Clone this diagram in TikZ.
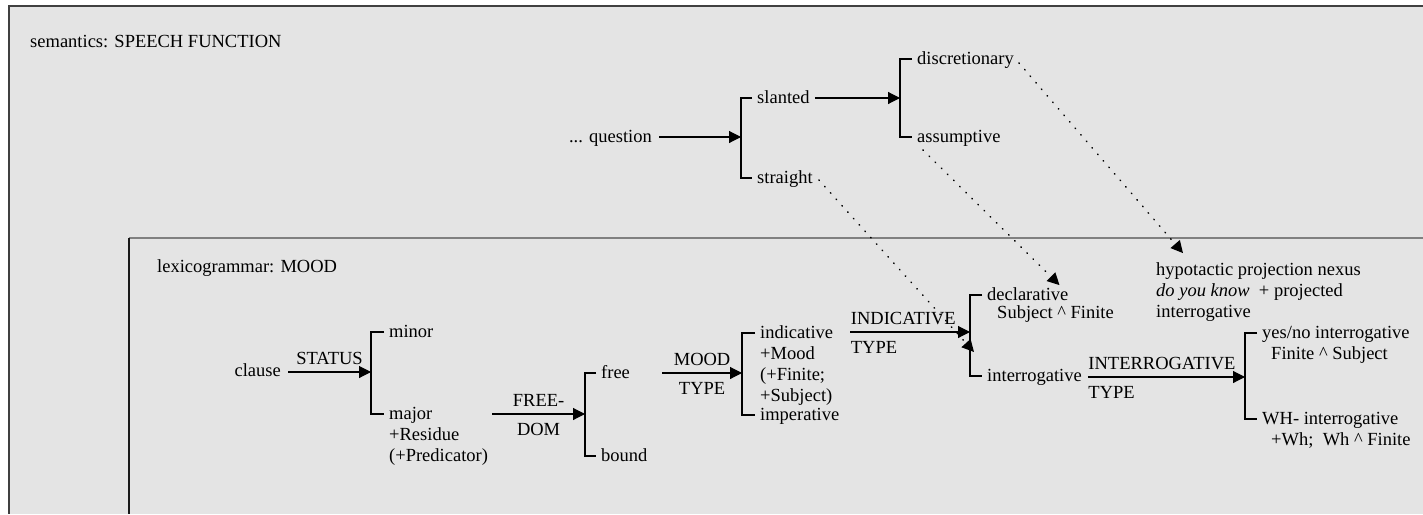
\documentclass[tikz,border=0pt]{standalone}
\usepackage{amsmath}
\usepackage{fontspec}
\setmainfont{Liberation Serif}
\usepackage{tikz}
\usetikzlibrary{arrows.meta}

\definecolor{panel}{HTML}{E4E4E4}
\definecolor{rim}{HTML}{404040}
\newcommand{\featlines}[1]{\begin{tabular}[t]{@{}l@{}}#1\end{tabular}}

\begin{document}
\begin{tikzpicture}[
  x = 1pt, y = -1pt,
  every node/.style = {font = \fontsize{18.5}{21}\selectfont, inner sep = 0pt},
  term/.style = {anchor = base west},
  labup/.style = {anchor = south, yshift = 7pt},
  labdn/.style = {anchor = north, yshift = -9pt},
  arr/.style = {line width = 1.1pt, -{Triangle[length = 12pt, width = 12pt]}},
  brace/.style = {line width = 1.6pt},
  realize/.style = {line width = 1.5pt, dash pattern = on 0.6pt off 8pt,
    line cap = round, -{Triangle[length = 12pt, width = 12pt]}}
]

\useasboundingbox (0,0) rectangle (1423,514);
\fill[panel] (9,6) rectangle (1423,514);
\draw[rim, line width = 2pt] (1423,6) -- (9,6) -- (9,514);
\draw[black!50, line width = 1.6pt] (1423,238) -- (129,238);
\draw[black!90, line width = 1.6pt] (129,238) -- (129,514);

\node[term] (semt) at (30,47) {semantics: SPEECH FUNCTION};
\node[term] (lext) at (157,272) {lexicogrammar: MOOD};

% semantics
\node[anchor = base east] (ques) at (652,142) {... question};
\coordinate (bq) at (741,137);
\node[term] (slan) at (757,103) {slanted};
\node[term] (strt) at (757,183) {straight};
\coordinate (bs) at (900,98);
\node[term] (disc) at (917,64) {discretionary};
\node[term] (assu) at (917,142) {assumptive};

% lexicogrammar
\node[anchor = base east] (cls) at (281,376) {clause};
\coordinate (bst) at (371,372);
\node[term] (mnr) at (389,337) {minor};
\node[term] (mjr) at (389,419) {\featlines{major\\+Residue\\(+Predicator)}};
\coordinate (bfr) at (585,414);
\node[term] (free) at (601,378) {free};
\node[term] (bnd) at (601,461) {bound};
\coordinate (bmo) at (742,373);
\node[term] (ind) at (760,338) {\featlines{indicative\\+Mood\\(+Finite;\\+Subject)}};
\node[term] (imp) at (760,420) {imperative};
\coordinate (bin) at (970,332);
\node[term] (decl) at (987,300) {\featlines{declarative\\[-3pt]\hspace*{10pt}Subject \textasciicircum\ Finite}};
\node[term] (intg) at (987,381) {interrogative};
\coordinate (bint) at (1245,377);
\node[term] (yn) at (1262,338) {\featlines{yes/no interrogative\\\hspace*{9pt}Finite \textasciicircum\ Subject}};
\node[term] (wh) at (1262,424) {\featlines{WH- interrogative\\\hspace*{9pt}+Wh;\ \ Wh \textasciicircum\ Finite}};
\node[term] (hyp) at (1156,275) {\featlines{hypotactic projection nexus\\\textit{do you know}\ \ + projected\\interrogative}};
\coordinate (toint) at (974,352);

\draw[arr] ([xshift = 7pt]ques.base east |- bq) -- (bq);
\draw[arr] ([xshift = 5pt]slan.base east |- bs) -- (bs);
\draw[brace] ([shift = {(-5pt,5pt)}]slan.base west) -| (bq) |- ([shift = {(-5pt,5pt)}]strt.base west);
\draw[brace] ([shift = {(-5pt,5pt)}]disc.base west) -| (bs) |- ([shift = {(-5pt,5pt)}]assu.base west);

\draw[arr] ([xshift = 7pt]cls.base east |- bst) -- node[labup] {STATUS} (bst);
\draw[brace] ([shift = {(-5pt,5pt)}]mnr.base west) -| (bst) |- ([shift = {(-5pt,5pt)}]mjr.base west);
\draw[arr] ([xshift = 4pt]mjr.east |- bfr) -- node[labup] {FREE-} node[labdn] {DOM} (bfr);
\draw[brace] ([shift = {(-5pt,5pt)}]free.base west) -| (bfr) |- ([shift = {(-5pt,5pt)}]bnd.base west);
\draw[arr] ([xshift = 32pt]free.east |- bmo) -- node[labup] {MOOD} node[labdn] {TYPE} (bmo);
\draw[brace] ([shift = {(-5pt,5pt)}]ind.base west) -| (bmo) |- ([shift = {(-5pt,5pt)}]imp.base west);
\draw[arr] ([xshift = 17pt]ind.east |- bin) --
  node[pos = 0, labup, anchor = south west] {INDICATIVE}
  node[pos = 0, labdn, anchor = north west] {TYPE} (bin);
\draw[brace] ([shift = {(-5pt,5pt)}]decl.base west) -| (bin) |- ([shift = {(-5pt,5pt)}]intg.base west);
\draw[arr] ([xshift = 6pt]intg.base east |- bint) --
  node[pos = 0, labup, anchor = south west] {INTERROGATIVE}
  node[pos = 0, labdn, anchor = north west] {TYPE} (bint);
\draw[brace] ([shift = {(-5pt,5pt)}]yn.base west) -| (bint) |- ([shift = {(-5pt,5pt)}]wh.base west);

\draw[realize] ([shift = {(6pt,3pt)}]strt.base east) -- (toint);
\draw[realize] ([shift = {(6pt,-8pt)}]assu.base west) -- ([xshift = 9pt]decl.north);
\draw[realize] ([shift = {(5pt,1pt)}]disc.base east) -- ([shift = {(27pt,7pt)}]hyp.north west);

\end{tikzpicture}
\end{document}
